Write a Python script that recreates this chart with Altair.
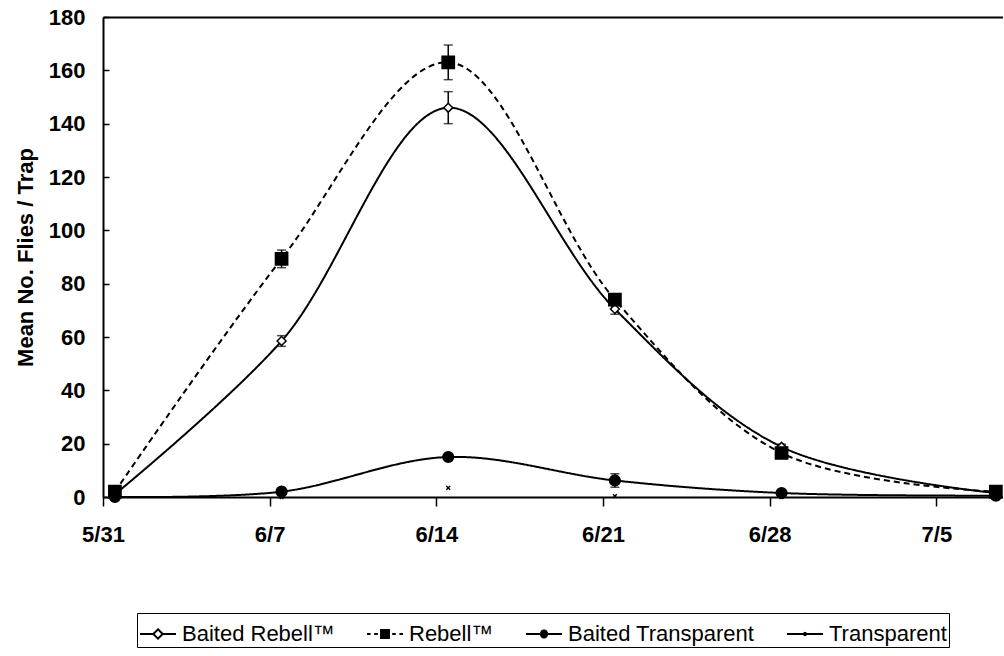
import math
import altair as alt
import pandas as pd

# ---- data ----
days = [0.5, 7.5, 14.5, 21.5, 28.5, 37.5]
tick_values = [0, 7, 14, 21, 28, 35]
tick_labels = ["5/31", "6/7", "6/14", "6/21", "6/28", "7/5"]
series = ["Baited Rebell™", "Rebell™", "Baited Transparent", "Transparent"]

baited_rebell = [1.0, 58.5, 146.0, 70.5, 18.8, 1.5]
baited_rebell_se = [0.5, 2.0, 6.0, 2.0, 1.0, 0.5]
rebell = [2.0, 89.3, 163.0, 74.0, 16.5, 2.0]
rebell_se = [0.5, 3.3, 6.5, 2.0, 1.0, 0.5]
baited_transparent = [0.0, 2.0, 15.0, 6.2, 1.5, 0.5]
baited_transparent_se = [0.0, 0.3, 0.8, 2.5, 0.3, 0.0]
transparent = [0.0, 0.0, 3.4, 0.3, 0.0, 0.0]
transparent_se = [0.0, 0.0, 0.0, 0.0, 0.0, 0.0]

vals = [baited_rebell, rebell, baited_transparent, transparent]
ses = [baited_rebell_se, rebell_se, baited_transparent_se, transparent_se]

rows = []
for s, v, e in zip(series, vals, ses):
    for d, y, se in zip(days, v, e):
        rows.append({"series": s, "day": d, "value": y, "se": se})
df = pd.DataFrame(rows)

W, H = 900, 480
XDOM = [0, 37.8]
YDOM = [0, 180]
FONT = "Liberation Sans"

label_expr = "[" + ",".join("'%s'" % l for l in tick_labels) + "][round(datum.value/7)]"

x_axis = alt.Axis(values=tick_values, labelExpr=label_expr, title=None,
                  grid=False, tickSize=9, tickWidth=1.5, tickColor="black",
                  domainColor="black", domainWidth=2, labelFlush=False,
                  labelFont=FONT, labelFontSize=22, labelFontWeight="bold",
                  labelColor="black", labelPadding=18)
y_axis = alt.Axis(values=list(range(0, 181, 20)), title="Mean No. Flies / Trap",
                  grid=False, ticks=False, domainColor="black", domainWidth=2,
                  labelFont=FONT, labelFontSize=22, labelFontWeight="bold",
                  labelColor="black", labelPadding=18, labelFlush=False,
                  titleFont=FONT, titleFontSize=22, titleFontWeight="bold",
                  titleColor="black", titlePadding=11)
xs = alt.Scale(domain=XDOM, nice=False, zero=False)
ys = alt.Scale(domain=YDOM, nice=False)


def X(field="day:Q"):
    return alt.X(field, scale=xs, axis=x_axis)


def Y(field="value:Q"):
    return alt.Y(field, scale=ys, axis=y_axis)


base = alt.Chart(df)

lines = base.transform_filter("datum.series != 'Transparent'").mark_line(
    interpolate="catmull-rom", color="black", strokeWidth=2
).encode(
    x=X(), y=Y(),
    strokeDash=alt.StrokeDash("series:N", scale=alt.Scale(domain=series,
                              range=[[1, 0], [6, 4], [1, 0], [1, 0]]), legend=None),
    detail="series:N",
)

err = base.transform_filter("datum.se > 0").transform_calculate(
    lo="datum.value - datum.se", hi="datum.value + datum.se")

rules = err.mark_rule(color="black", strokeWidth=1.5).encode(x=X(), y=Y("lo:Q"), y2="hi:Q")
cap_lo = err.mark_tick(orient="horizontal", color="black", size=9, thickness=1.5).encode(
    x=X(), y=Y("lo:Q"))
cap_hi = err.mark_tick(orient="horizontal", color="black", size=9, thickness=1.5).encode(
    x=X(), y=Y("hi:Q"))

marker_styles = [
    dict(shape="diamond", fill="white", size=80),
    dict(shape="square", fill="black", size=150),
    dict(shape="circle", fill="black", size=115),
    dict(shape="M-1,-1L1,1M1,-1L-1,1", fill="black", size=14),
]
point_layers = []
for s, st in zip(series, marker_styles):
    point_layers.append(
        base.transform_filter(alt.datum.series == s).mark_point(
            stroke="black", strokeWidth=1.5, opacity=1, filled=False,
            shape=st["shape"], fill=st["fill"], size=st["size"]
        ).encode(x=X(), y=Y())
    )

inner = alt.layer(lines, rules, cap_lo, cap_hi, *point_layers)

# ---- legend symbols: line + marker drawn as one stroked path ----
def f(v):
    return ("%.3f" % v).rstrip("0").rstrip(".")

r = 0.22
sq = "M%s,%sH%sV%sH%sZ" % (f(-r), f(-r), f(r), f(r), f(-r))
ys_ = [(-r + 0.02) + i * 0.05 for i in range(int((2 * r - 0.04) / 0.05) + 1)]
circ = ""
for yy in ys_:
    hw = math.sqrt(max(r * r - yy * yy, 0))
    circ += "M%s,%sH%s" % (f(-hw), f(yy), f(hw))
sq_fill = "".join("M%s,%sH%s" % (f(-r), f(yy), f(r)) for yy in ys_)
leg_paths = [
    "M-1,0H-0.26M0.26,0H1M0,-0.26L0.26,0L0,0.26L-0.26,0Z",
    "M-1,0H-0.8M-0.6,0H-0.4M0.4,0H0.6M0.8,0H1" + sq + sq_fill,
    "M-1,0H1" + circ,
    "M-1,0H1M-0.08,-0.08L0.08,0.08M0.08,-0.08L-0.08,0.08",
]
leg = alt.Legend(title=None, orient="none", legendX=34, legendY=596,
                 direction="horizontal", columns=4,
                 labelFont=FONT, labelFontSize=22,
                 labelColor="black", labelLimit=400, labelOffset=5,
                 columnPadding=28, padding=2, symbolOpacity=1,
                 symbolSize=1296, symbolStrokeWidth=2,
                 symbolStrokeColor="black", symbolFillColor="white",
                 strokeColor="black", fillColor="white")
legend_layer = base.transform_filter("false").mark_point(
    color="black", filled=False, size=1296, strokeWidth=2
).encode(
    x=alt.X("day:Q", scale=alt.Scale(domain=XDOM, nice=False, zero=False), axis=None),
    y=alt.Y("value:Q", scale=alt.Scale(domain=YDOM, nice=False), axis=None),
    shape=alt.Shape("series:N", scale=alt.Scale(domain=series, range=leg_paths), legend=leg),
)

# frame: top border and inward y ticks
deco = base.transform_filter("false").mark_point(opacity=0).encode(
    x=alt.X("day:Q", scale=alt.Scale(domain=XDOM, nice=False, zero=False),
            axis=alt.Axis(orient="top", labels=False, ticks=False, title=None, grid=False,
                          domainColor="black", domainWidth=2)),
    y=alt.Y("value:Q", scale=alt.Scale(domain=YDOM, nice=False),
            axis=alt.Axis(orient="right", offset=-W, labels=False, domain=False,
                          values=list(range(0, 181, 20)), tickSize=6, tickWidth=1.5,
                          tickColor="black", title=None, grid=False)),
)

chart = alt.layer(inner, legend_layer, deco).resolve_scale(
    x="independent", y="independent", shape="independent"
).properties(
    width=W, height=H,
    autosize=alt.AutoSizeParams(type="none"),
    padding={"left": 103, "top": 17, "right": 0, "bottom": 159},
).configure_view(stroke=None).configure(background="white")

chart.save("out.html", embed_options={"renderer": "svg", "actions": False})
